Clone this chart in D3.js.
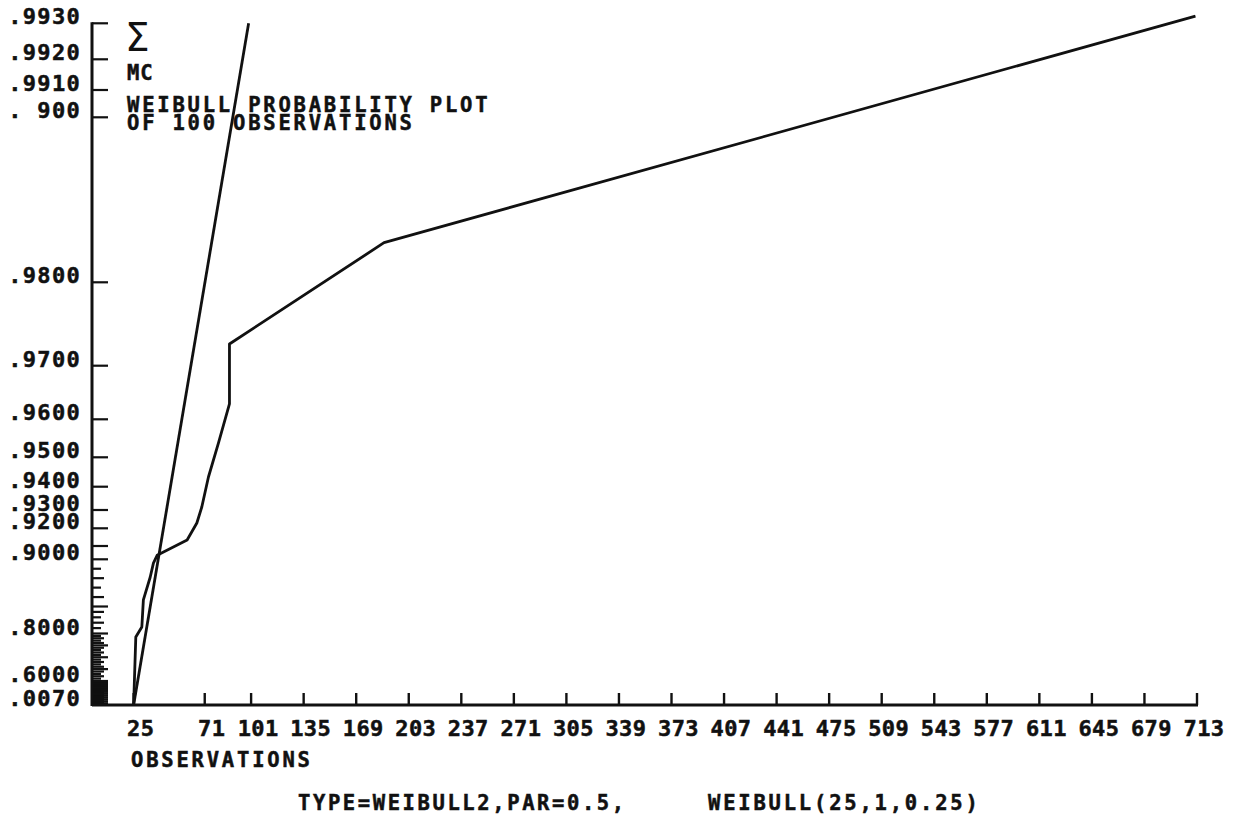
<!DOCTYPE html>
<html>
<head>
<meta charset="utf-8">
<script src="https://cdn.jsdelivr.net/npm/d3@7"></script>
<style>
  body { margin: 0; background: #fff; }
  .plot-text { font-family: "DejaVu Sans Mono", monospace; font-weight: bold; fill: #111; stroke: #111; stroke-width: 0.5px; }
</style>
</head>
<body>
<div id="chart"></div>
<script>
///////////////////////////////////////////////////////////////////////////
//////////////////////////////// The data /////////////////////////////////
///////////////////////////////////////////////////////////////////////////

//x axis ticks and labels (observations)
var xTickValues = [25, 71, 101, 135, 169, 203, 237, 271, 305, 339, 373, 407, 441, 475, 509, 543, 577, 611, 645, 679, 713];

//labelled probability rulings and the text printed next to them
var yLabelValues = [0.993, 0.992, 0.991, 0.99, 0.98, 0.97, 0.96, 0.95, 0.94, 0.93, 0.92, 0.90, 0.80, 0.60, 0.007];
var yLabelText = [".9930", ".9920", ".9910", ". 900", ".9800", ".9700", ".9600", ".9500", ".9400", ".9300", ".9200", ".9000", ".8000", ".6000", ".0070"];

//empirical distribution (observation, cumulative probability)
var obsX = [25, 26.4, 30.3, 31.3, 35.7, 37.8, 40.2, 59.6, 65.9, 69.1, 73.4, 79.9, 87, 87, 187, 712];
var obsP = [0.007, 0.785, 0.812, 0.857, 0.881, 0.896, 0.903, 0.9134, 0.9229, 0.9313, 0.9433, 0.9538, 0.9629, 0.9726, 0.9824, 0.9932];

//fitted weibull line
var fitX = [25, 99.4];
var fitP = [0.007, 0.993];

///////////////////////////////////////////////////////////////////////////
//////////////////////////////// Set up ///////////////////////////////////
///////////////////////////////////////////////////////////////////////////

var width = 1242,
	height = 817;

var svg = d3.select("#chart").append("svg")
	.attr("width", width)
	.attr("height", height);

var ink = "#111";

var xScale = d3.scaleLinear()
	.domain([0, 713])
	.range([95, 1197]);

//the probability paper is not evenly ruled, so calibrate against its rulings
var yScale = d3.scaleLinear()
	.domain([0.993, 0.992, 0.991, 0.99, 0.98, 0.97, 0.96, 0.95, 0.94, 0.93, 0.92, 0.91, 0.90, 0.85, 0.80, 0.60, 0.007])
	.range([23.3, 59.3, 90, 117.3, 282.3, 365.7, 419.3, 457.3, 486.7, 510, 528.3, 546, 559.3, 606.5, 633.5, 681, 705]);

var axisX = 92,
	axisY = 705;

///////////////////////////////////////////////////////////////////////////
//////////////////////////////// Y axis ///////////////////////////////////
///////////////////////////////////////////////////////////////////////////

//every hundredth plus the three top rulings
var yTicks = d3.range(1, 100).map(function(d) { return d / 100; }).concat([0.991, 0.992, 0.993]);

var yAxisG = svg.append("g").attr("class", "y-axis");

yAxisG.selectAll(".y-tick")
	.data(yTicks)
	.enter().append("line")
	.attr("class", "y-tick")
	.attr("x1", axisX)
	.attr("x2", function(d) {
		var major = yLabelValues.some(function(v) { return Math.abs(v - d) < 1e-6; }) || Math.abs(d - 0.91) < 1e-6;
		if (major) return axisX + 16;
		if (Math.round(d * 100) % 5 === 0) return axisX + 16;
		if (Math.round(d * 100) % 2 === 0) return axisX + 12;
		return axisX + 9;
	})
	.attr("y1", function(d) { return yScale(d); })
	.attr("y2", function(d) { return yScale(d); })
	.style("stroke", ink)
	.style("stroke-width", 2.2);

yAxisG.append("line")
	.attr("x1", axisX).attr("x2", axisX)
	.attr("y1", yScale(0.993) - 1).attr("y2", axisY + 1)
	.style("stroke", ink)
	.style("stroke-width", 3);

yAxisG.selectAll(".y-label")
	.data(yLabelValues)
	.enter().append("text")
	.attr("class", "plot-text y-label")
	.attr("x", 81)
	.attr("y", function(d) { return yScale(d) + 1; })
	.style("text-anchor", "end")
	.style("font-size", "22px")
	.style("letter-spacing", "1.3px")
	.text(function(d, i) { return yLabelText[i]; });

///////////////////////////////////////////////////////////////////////////
//////////////////////////////// X axis ///////////////////////////////////
///////////////////////////////////////////////////////////////////////////

var xAxisG = svg.append("g").attr("class", "x-axis");

xAxisG.append("line")
	.attr("x1", axisX).attr("x2", xScale(713) + 1)
	.attr("y1", axisY).attr("y2", axisY)
	.style("stroke", ink)
	.style("stroke-width", 3);

xAxisG.selectAll(".x-tick")
	.data(xTickValues)
	.enter().append("line")
	.attr("class", "x-tick")
	.attr("x1", function(d) { return xScale(d); })
	.attr("x2", function(d) { return xScale(d); })
	.attr("y1", axisY)
	.attr("y2", axisY - 12)
	.style("stroke", ink)
	.style("stroke-width", 2.4);

xAxisG.selectAll(".x-label")
	.data(xTickValues)
	.enter().append("text")
	.attr("class", "plot-text x-label")
	.attr("x", function(d) { return xScale(d) + 7; })
	.attr("y", 736)
	.style("text-anchor", "middle")
	.style("font-size", "22px")
	.style("letter-spacing", "0.4px")
	.text(function(d) { return d; });

svg.append("text")
	.attr("class", "plot-text")
	.attr("x", 131)
	.attr("y", 767)
	.style("font-size", "20.5px")
	.style("letter-spacing", "2.8px")
	.text("OBSERVATIONS");

///////////////////////////////////////////////////////////////////////////
//////////////////////////////// Lines ////////////////////////////////////
///////////////////////////////////////////////////////////////////////////

var line = d3.line()
	.x(function(d) { return xScale(d[0]); })
	.y(function(d) { return yScale(d[1]); });

svg.append("path")
	.datum(d3.zip(fitX, fitP))
	.attr("d", line)
	.style("fill", "none")
	.style("stroke", ink)
	.style("stroke-width", 2.8);

svg.append("path")
	.datum(d3.zip(obsX, obsP))
	.attr("d", line)
	.style("fill", "none")
	.style("stroke", ink)
	.style("stroke-width", 2.8)
	.style("stroke-linejoin", "round");

///////////////////////////////////////////////////////////////////////////
//////////////////////////////// Titles ///////////////////////////////////
///////////////////////////////////////////////////////////////////////////

svg.append("text")
	.attr("x", 125)
	.attr("y", 51)
	.style("font-family", "'DejaVu Sans', sans-serif")
	.style("font-size", "39px")
	.style("fill", ink)
	.text("Σ");

svg.append("text")
	.attr("class", "plot-text")
	.attr("x", 127)
	.attr("y", 80)
	.style("font-size", "20.5px")
	.style("letter-spacing", "1px")
	.text("MC");

svg.append("text")
	.attr("class", "plot-text")
	.attr("x", 127)
	.attr("y", 111.5)
	.style("font-size", "20.5px")
	.style("letter-spacing", "2.8px")
	.text("WEIBULL PROBABILITY PLOT");

svg.append("text")
	.attr("class", "plot-text")
	.attr("x", 127)
	.attr("y", 130)
	.style("font-size", "20.5px")
	.style("letter-spacing", "2.8px")
	.text("OF 100 OBSERVATIONS");

svg.append("text")
	.attr("class", "plot-text")
	.attr("x", 298)
	.attr("y", 810)
	.style("font-size", "20.5px")
	.style("letter-spacing", "2.6px")
	.text("TYPE=WEIBULL2,PAR=0.5,");

svg.append("text")
	.attr("class", "plot-text")
	.attr("x", 708)
	.attr("y", 810)
	.style("font-size", "20.5px")
	.style("letter-spacing", "2.8px")
	.text("WEIBULL(25,1,0.25)");
</script>
</body>
</html>
